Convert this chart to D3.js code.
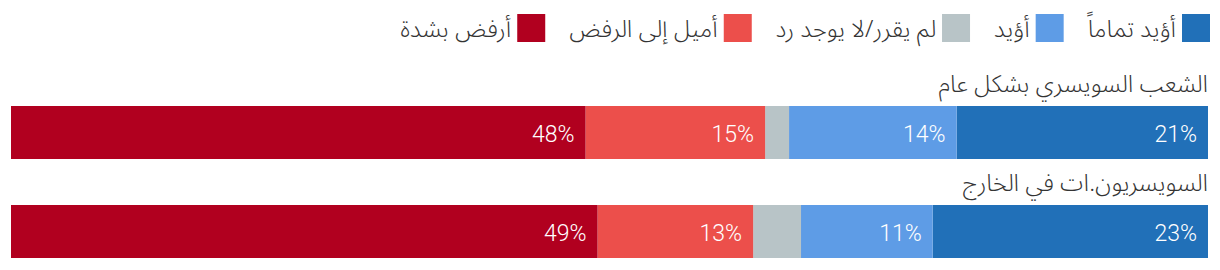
<!DOCTYPE html>
<meta charset="utf-8">
<script src="https://d3js.org/d3.v7.min.js"></script>
<style>
  body { margin: 0; background: #fff; }
  svg { display: block; }
  .ar { font-family: "Noto Sans Arabic", "Noto Sans", "DejaVu Sans", sans-serif; font-weight: 300; }
  .pct { font-family: Roboto, sans-serif; font-weight: 300; }
</style>
<body>
<div id="chart"></div>
<script>
// rows (top to bottom)
var categories = ["الشعب السويسري بشكل عام", "السويسريون.ات في الخارج"]

// answers, right to left
var answers = ["أؤيد تماماً", "أؤيد", "لم يقرر/لا يوجد رد", "أميل إلى الرفض", "أرفض بشدة"]
var colors = ["#2170b8", "#5e9ce6", "#b8c4c7", "#ec4f4b", "#b1001f"]

// percentages per row
var fullySupport = [21, 23]
var support = [14, 11]
var undecided = [2, 4]
var leanAgainst = [15, 13]
var stronglyAgainst = [48, 49]

var series = [fullySupport, support, undecided, leanAgainst, stronglyAgainst]

var table = categories.map(function (c, i) {
  var row = { category: c }
  answers.forEach(function (a, j) { row[a] = series[j][i] })
  return row
})

var w = 1220, h = 270

var svg = d3.select("#chart").append("svg")
  .attr("width", w).attr("height", h)

// right-to-left axis
var x = d3.scaleLinear().domain([0, 100]).range([1208, 11])
var y = d3.scaleBand().domain(categories).range([60, 258])
var color = d3.scaleOrdinal().domain(answers).range(colors)

var stacked = d3.stack().keys(answers)(table)

// legend, laid out from the right
var legend = svg.append("g").attr("class", "legend")
var lx = 1210
answers.forEach(function (a) {
  var item = legend.append("g")
  item.append("rect")
    .attr("x", lx - 28).attr("y", 14)
    .attr("width", 28).attr("height", 28)
    .attr("fill", color(a))
  var t = item.append("text")
    .attr("class", "ar")
    .attr("x", lx - 34).attr("y", 37)
    .attr("text-anchor", "end")
    .attr("font-size", 24)
    .attr("fill", "#333")
    .text(a)
  lx = lx - 34 - t.node().getComputedTextLength() - 24
})

// row titles
svg.append("g").selectAll("text")
  .data(categories)
  .enter().append("text")
    .attr("class", "ar")
    .attr("x", 1208)
    .attr("y", function (d) { return y(d) + 32 })
    .attr("text-anchor", "end")
    .attr("font-size", 24)
    .attr("fill", "#333")
    .text(function (d) { return d })

var barTop = 46, barH = 53

var layers = svg.append("g").selectAll("g")
  .data(stacked)
  .enter().append("g")
    .attr("fill", function (d) { return color(d.key) })

layers.selectAll("rect")
  .data(function (d) { return d })
  .enter().append("rect")
    .attr("x", function (d) { return x(d[1]) })
    .attr("y", function (d) { return y(d.data.category) + barTop })
    .attr("width", function (d) { return x(d[0]) - x(d[1]) })
    .attr("height", barH)

layers.selectAll("text")
  .data(function (d) { return d.filter(function (p) { return p[1] - p[0] >= 5 }) })
  .enter().append("text")
    .attr("class", "pct")
    .attr("x", function (d) { return x(d[0]) - 11 })
    .attr("y", function (d) { return y(d.data.category) + barTop + barH / 2 + 9 })
    .attr("text-anchor", "end")
    .attr("font-size", 23)
    .attr("fill", "#fff")
    .text(function (d) { return (d[1] - d[0]) + "%" })
</script>
</body>
